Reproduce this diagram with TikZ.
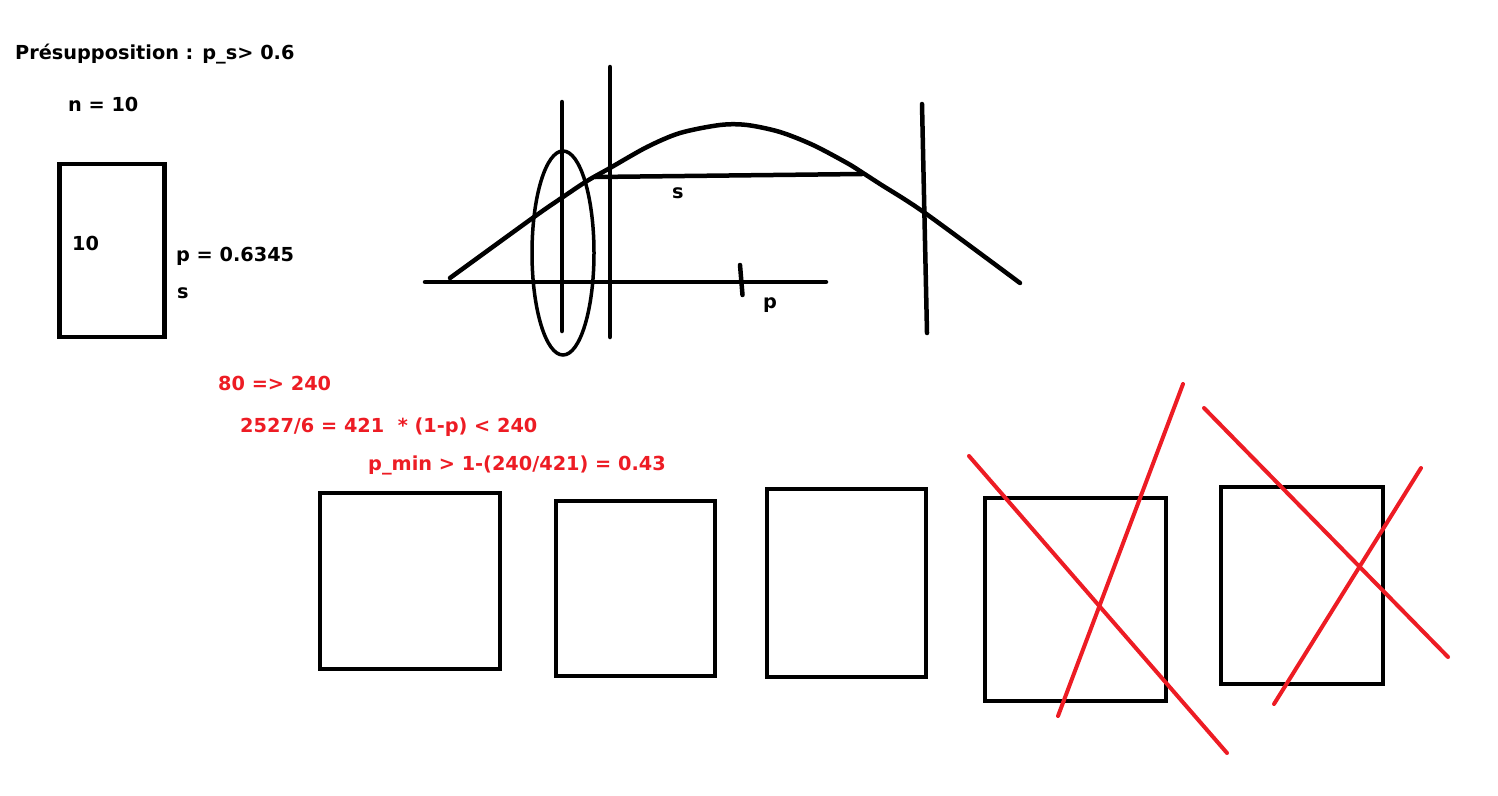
\documentclass[tikz,border=0pt]{standalone}
\usepackage{fontspec}
\setmainfont{DejaVu Sans}
\definecolor{paintred}{RGB}{237,28,36}
\tikzset{
  ink/.style={line width=4.5pt, line cap=round, line join=round},
  thinink/.style={line width=3.5pt},
  redink/.style={draw=paintred, line width=4pt, line cap=round},
  boxline/.style={line width=4.5pt},
  lbl/.style={font=\bfseries\fontsize{19.3}{21}\selectfont, inner sep=0pt, anchor=base west},
  redlbl/.style={lbl, text=paintred},
}
\begin{document}
\begin{tikzpicture}[x=1pt,y=-1pt]
\useasboundingbox (0,0) rectangle (1498,795);
% top-left texts
\node[lbl] (title) at (15,59) {Présupposition : p\_s> 0.6};
\node[lbl] (n) at (68,111) {n = 10};
\draw[boxline] (59.5,164) rectangle (164.5,337);
\node[lbl] (ten) at (72,250) {10};
\node[lbl] (pval) at (176,261) {p = 0.6345};
\node[lbl] (sl) at (177,298) {s};
% curve sketch
\draw[ink] (425,282) -- (826,282);
\draw[ink] (740,265) -- (742.5,295);
\node[lbl] (plab) at (763,308) {p};
\draw[ink] plot[smooth, tension=0.5] coordinates {(450,278) (534,217) (563,197) (587,181) (610,168) (647,147) (680,133) (720,125) (747,125) (780,132) (813,145) (847,163) (863,173) (880,184) (925,213) (1020,283)};
\draw[ink] (595.5,177) -- (862,174);
\node[lbl] (slab) at (672,198) {s};
\draw[ink] (562,102) -- (562,331);
\draw[ink] (610,67) -- (610,337);
\draw[ink] (922,104) -- (927,333);
\draw[thinink] (563,253) ellipse [x radius=31pt, y radius=102pt];
% red texts
\node[redlbl] (r1) at (218,390) {80 => 240};
\node[redlbl] (r2) at (240,432) {2527/6 = 421 \ * (1-p) < 240};
\node[redlbl] (r3) at (368,470) {p\_min > 1-(240/421) = 0.43};
% boxes
\draw[boxline] (320,493) rectangle (500,669);
\draw[boxline] (556,501) rectangle (715,676);
\draw[boxline] (767,489) rectangle (926,677);
\draw[boxline] (985,498) rectangle (1166,701);
\draw[boxline] (1221,487) rectangle (1383,684);
% red crosses
\draw[redink] (969,456) -- (1227,753);
\draw[redink] (1183,384) -- (1058,716);
\draw[redink] (1204,408) -- (1448,657);
\draw[redink] (1421,468) -- (1274,704);
\end{tikzpicture}
\end{document}
